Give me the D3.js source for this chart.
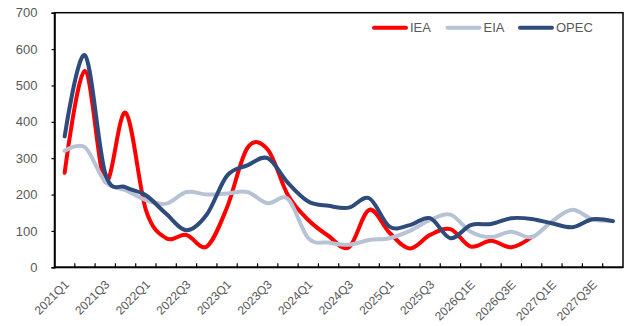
<!DOCTYPE html>
<html>
<head>
<meta charset="utf-8">
<script src="https://cdn.jsdelivr.net/npm/d3@7"></script>
<style>
  html, body { margin: 0; padding: 0; background: #fff; }
  svg { display: block; }
  text { font-family: "Liberation Sans", Arial, sans-serif; fill: #595959; }
</style>
</head>
<body>
<svg id="chart" width="629" height="326"></svg>
<script>
const categories = [
  "2021Q1","2021Q2","2021Q3","2021Q4",
  "2022Q1","2022Q2","2022Q3","2022Q4",
  "2023Q1","2023Q2","2023Q3","2023Q4",
  "2024Q1","2024Q2","2024Q3","2024Q4",
  "2025Q1","2025Q2","2025Q3","2025Q4",
  "2026Q1E","2026Q2E","2026Q3E","2026Q4E",
  "2027Q1E","2027Q2E","2027Q3E","2027Q4E"
];
const iea = [260, 540, 235, 425, 158, 80, 89, 57, 165, 328, 324, 198, 130, 86, 55, 158, 95, 52, 89, 105, 57, 73, 55, 83, null, null, null, null];
const eia = [320, 330, 235, 212, 185, 175, 207, 200, 203, 207, 176, 188, 80, 68, 62, 75, 80, 100, 130, 145, 98, 83, 98, 83, 126, 158, 132, 128];
const opec = [360, 583, 258, 220, 198, 147, 102, 145, 252, 280, 300, 232, 181, 169, 164, 190, 112, 116, 135, 80, 116, 119, 135, 133, 121, 110, 132, 127];
const yTicks = [0, 100, 200, 300, 400, 500, 600, 700];
const seriesNames = ["IEA", "EIA", "OPEC"];
const seriesColors = ["#FF0000", "#B7C3D5", "#2F4B7C"];

const svg = d3.select("#chart");
const L = 54.5, R = 623, T = 12.7, B = 267.3;

const x = d3.scaleBand().domain(categories).range([L, R]).padding(0);
const y = d3.scaleLinear().domain([0, 700]).range([B, T]);

// plot frame (top and right border)
svg.append("rect").attr("x", L).attr("y", T).attr("width", R - L).attr("height", B - T)
  .attr("fill", "none").attr("stroke", "#000").attr("stroke-width", 1.5);

// series lines
const series = [iea, eia, opec];
series.forEach((vals, si) => {
  const line = d3.line()
    .defined(d => d != null)
    .x((d, i) => x(categories[i]) + x.bandwidth() / 2)
    .y(d => y(d))
    .curve(d3.curveCardinal.tension(0));
  svg.append("path").datum(vals)
    .attr("d", line)
    .attr("fill", "none")
    .attr("stroke", seriesColors[si])
    .attr("stroke-width", 4)
    .attr("stroke-linejoin", "round")
    .attr("stroke-linecap", "round");
});

// y axis
const yAxis = d3.axisLeft(y).tickValues(yTicks).tickSize(3).tickPadding(14).tickFormat(d3.format("d"));
const gy = svg.append("g").attr("transform", `translate(${L},0)`).call(yAxis);
gy.select(".domain").attr("stroke", "#000").attr("stroke-width", 1.5);
gy.selectAll(".tick line").attr("stroke", "#000").attr("stroke-width", 1.2);
gy.selectAll(".tick text").attr("font-size", 13).attr("fill", "#595959")
  .style("font-family", "'Liberation Sans', Arial, sans-serif");

// x axis: inner ticks at band boundaries
const gx = svg.append("g");
gx.append("line").attr("x1", L).attr("x2", R).attr("y1", B).attr("y2", B)
  .attr("stroke", "#000").attr("stroke-width", 1.8);
categories.forEach((c, i) => {
  if (i === 0) return;
  const xx = x(c);
  gx.append("line").attr("x1", xx).attr("x2", xx).attr("y1", B).attr("y2", B - 4)
    .attr("stroke", "#000").attr("stroke-width", 1.2);
});
categories.forEach((c, i) => {
  if (i % 2 !== 0) return;
  const cx = x(c) + x.bandwidth() / 2;
  gx.append("text")
    .attr("transform", `translate(${cx + 5},${B + 18}) rotate(-45)`)
    .attr("text-anchor", "end")
    .attr("font-size", 12)
    .text(c);
});

// legend
const legX = [374, 447.5, 520];
seriesNames.forEach((n, i) => {
  const g = svg.append("g");
  g.append("line").attr("x1", legX[i]).attr("x2", legX[i] + 32).attr("y1", 27.7).attr("y2", 27.7)
    .attr("stroke", seriesColors[i]).attr("stroke-width", 4).attr("stroke-linecap", "round");
  g.append("text").attr("x", legX[i] + 36).attr("y", 32.3).attr("font-size", 13).text(n);
});
</script>
</body>
</html>
